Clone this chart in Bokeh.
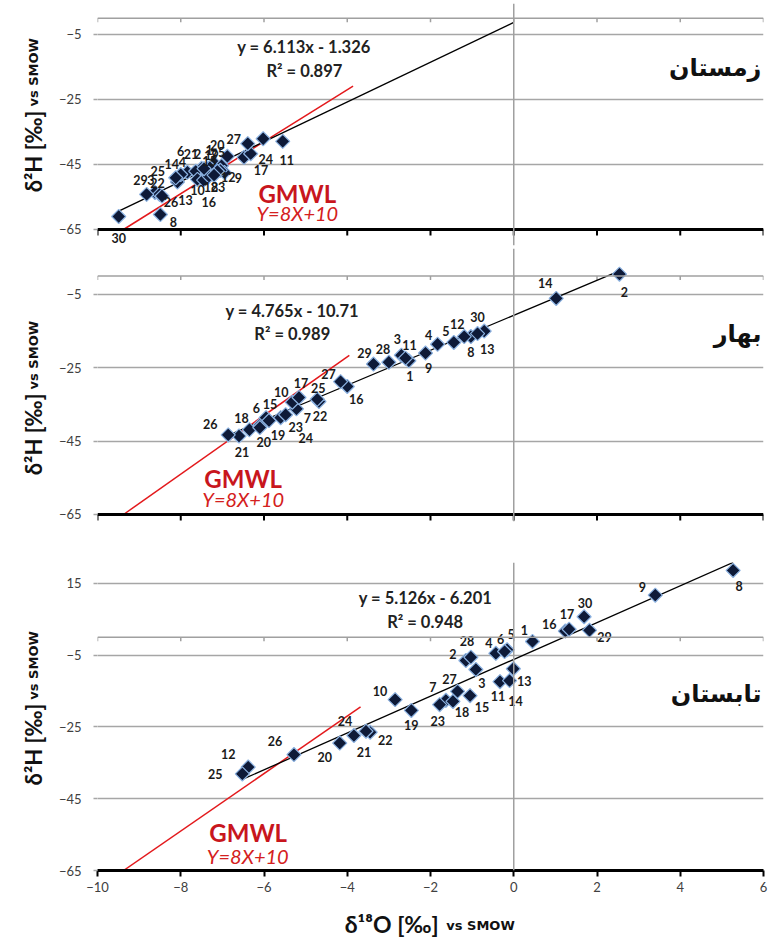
import math
from bokeh.plotting import figure
from bokeh.layouts import column, row
from bokeh.models import ColumnDataSource, Span, Label, FixedTicker, Range1d
from bokeh.core.properties import value
from bokeh.embed import file_html
from bokeh.resources import INLINE

# ---------------- data ----------------
stations = [str(i) for i in range(1, 31)]

winter_o18 = [-7.20, -7.50, -8.62, -7.84, -7.02, -7.64, -7.30, -8.49, -6.95, -7.60,
              -5.55, -7.05, -8.08, -8.00, -7.36, -7.45, -6.48, -7.32, -7.12, -6.88,
              -7.44, -8.51, -7.20, -6.32, -8.12, -8.45, -6.39, -6.02, -8.82, -9.49]
winter_h2 = [-44.6, -46.2, -53.6, -47.4, -45.4, -47.1, -46.0, -60.4, -47.5, -49.6,
             -37.9, -46.8, -50.4, -48.1, -47.6, -49.8, -42.8, -48.6, -47.1, -42.5,
             -46.3, -54.2, -48.3, -41.7, -49.1, -54.7, -38.6, -37.1, -54.2, -61.0]
winter_labels = stations[:27] + [""] + stations[28:]   # label of station 28 hidden in the source

spring_o18 = [-2.52, 2.54, -2.70, -1.83, -1.44, -6.09, -5.22, -1.03, -2.12, -5.32,
              -2.60, -1.19, -0.71, 1.02, -5.95, -4.00, -5.16, -6.35, -5.88, -6.10,
              -6.60, -4.68, -5.60, -5.48, -4.72, -6.86, -4.16, -3.00, -3.37, -0.87]
spring_h2 = [-23.1, 0.5, -21.6, -18.6, -18.1, -40.6, -36.2, -16.5, -21.0, -34.4,
             -22.4, -16.5, -15.0, -6.1, -38.6, -30.1, -33.1, -41.9, -39.4, -41.3,
             -43.6, -34.2, -38.6, -37.8, -33.6, -43.3, -28.8, -23.5, -24.0, -15.7]
spring_labels = stations

summer_o18 = [0.45, -1.15, -0.91, -0.43, -0.16, -0.22, -1.63, 5.27, 3.40, -2.85,
              -0.33, -6.38, -0.01, -0.10, -1.05, 1.24, 1.33, -1.46, -2.46, -4.18,
              -3.84, -3.45, -1.78, -3.55, -6.52, -5.28, -1.35, -1.03, 1.82, 1.69]
summer_h2 = [-1.2, -6.5, -9.0, -4.5, -3.5, -4.0, -17.6, 18.6, 11.7, -17.4,
             -12.4, -36.2, -8.8, -12.1, -16.3, 1.7, 2.2, -17.9, -20.4, -29.5,
             -27.4, -26.5, -18.8, -26.2, -38.1, -32.7, -15.1, -5.6, 1.9, 5.7]
summer_labels = stations

# regression fits (slope, intercept, R2)
winter_fit = [6.113, -1.326, 0.897]
spring_fit = [4.765, -10.71, 0.989]
summer_fit = [5.126, -6.201, 0.948]

# global meteoric water line Y = 8X + 10
gmwl = [8, 10]
gmwl_top_o18 = [-3.86, -3.95, -3.68]

season_names = ["زمستان", "بهار", "تابستان"]

x_ticks = [-10, -8, -6, -4, -2, 0, 2, 4, 6]
y_ticks_ws = [-65, -45, -25, -5]
y_ticks_su = [-65, -45, -25, -5, 15]
y_axis_base = -65

# ---------------- label placement (screen px, +dy = up) ----------------
winter_lab_off = [(-5, 13), (-4, 14), (-4, 12), (-5, 10), (0, 14), (-15, 20), (4, 13), (13, -7),
                  (14, -5), (0, -11), (4, -19), (8, -7), (8, -18), (-9, 11), (2, 12), (5, -22),
                  (17, -13), (2, -11), (-6, 16), (-10, 11), (-13, 15), (-2, 11), (4, -12),
                  (15, -5), (-18, 7), (9, -6), (-14, 5), (0, 0), (-6, 14), (0, -22)]
spring_lab_off = [(1, -15), (5, -18), (-4, 16), (-9, 9), (-8, 11), (-4, 17), (11, -9), (0, -15),
                  (3, -15), (-11, 10), (4, 13), (-7, 13), (3, -18), (-11, 15), (4, 14), (9, -13),
                  (2, 14), (-8, 12), (9, -14), (4, -14), (3, -16), (1, -15), (15, -9), (20, -23),
                  (1, 11), (-18, 11), (-12, 8), (-6, 13), (-9, 11), (0, 17)]
summer_lab_off = [(-8, 11), (-13, 7), (6, -14), (-7, 10), (4, 16), (-4, 13), (-13, 13), (6, -16),
                  (-13, 8), (-15, 9), (-2, -14), (-20, 13), (11, -12), (6, -20), (12, -11), (-16, 7),
                  (-2, 15), (9, -11), (0, -15), (-15, -14), (10, -16), (15, -8), (-2, -16),
                  (-21, 10), (-27, 0), (-19, 14), (-8, 12), (-4, 16), (15, -7), (1, 14)]

FONT = "Lato"
LEFT_W = 48          # width of the strip holding the y title
W_MAIN = 721
ML, MR = 49, 6
FRAME_W = W_MAIN - ML - MR
PPX = FRAME_W / 16.0  # px per o18 unit

panels = [
    dict(o18=winter_o18, h2=winter_h2, labels=winter_labels, off=winter_lab_off, fit=winter_fit,
         fit_x=[min(winter_o18), 0.0], gm_top=gmwl_top_o18[0], yt=y_ticks_ws,
         ppu=3.25, ext=16, yhi=4.5, mt=3, mb=1, season=season_names[0],
         eq=(-5.04, -8.9), r2=(-5.03, -16.3), gm=(-5.2, -53.8), gme=(-5.2, -59.9),
         sea=(5.95, -15.4), ylab=(-28.4, -27.2), real_axis=False),
    dict(o18=spring_o18, h2=spring_h2, labels=spring_labels, off=spring_lab_off, fit=spring_fit,
         fit_x=[min(spring_o18), max(spring_o18)], gm_top=gmwl_top_o18[1], yt=y_ticks_ws,
         ppu=3.667, ext=7, yhi=7.5, mt=2, mb=39, season=season_names[1],
         eq=(-5.32, -9.6), r2=(-5.32, -15.9), gm=(-6.5, -55.2), gme=(-6.5, -60.8),
         sea=(5.95, -15.7), ylab=(-32.0, -30.9), real_axis=False),
    dict(o18=summer_o18, h2=summer_h2, labels=summer_labels, off=summer_lab_off, fit=summer_fit,
         fit_x=[min(summer_o18), max(summer_o18)], gm_top=gmwl_top_o18[2], yt=y_ticks_su,
         ppu=3.59, ext=0, yhi=20.8, mt=2, mb=30, season=season_names[2],
         eq=(-2.12, 10.8), r2=(-2.13, 4.3), gm=(-6.38, -54.3), gme=(-6.39, -60.9),
         sea=(5.95, -15.9), ylab=(-18.5, -17.4), real_axis=True),
]

rows = []
for cfg in panels:
    ppu = cfg["ppu"]
    ylo = y_axis_base - cfg["ext"] / ppu
    frame_h = int(round((cfg["yhi"] - ylo) * ppu))
    H = cfg["mt"] + frame_h + cfg["mb"]
    p = figure(width=W_MAIN, height=H, output_backend="svg", toolbar_location=None,
               x_range=Range1d(-10, 6), y_range=Range1d(ylo, cfg["yhi"]),
               min_border_left=ML, min_border_right=MR, min_border_top=cfg["mt"],
               min_border_bottom=cfg["mb"])
    p.outline_line_color = None
    p.background_fill_color = "white"
    p.border_fill_color = "white"

    # grid
    p.xgrid.visible = False
    p.ygrid.ticker = FixedTicker(ticks=cfg["yt"])
    p.ygrid.grid_line_color = "#a6a6a6"
    p.ygrid.grid_line_width = 1.5

    # x axis
    if cfg["real_axis"]:
        p.xaxis.ticker = FixedTicker(ticks=x_ticks)
        p.xaxis.axis_line_color = "black"
        p.xaxis.axis_line_width = 3
        p.xaxis.major_tick_line_color = "black"
        p.xaxis.major_tick_line_width = 2
        p.xaxis.major_tick_in = 0
        p.xaxis.major_tick_out = 6
        p.xaxis.minor_tick_line_color = None
        p.xaxis.major_label_text_font = FONT
        p.xaxis.major_label_text_font_size = "13px"
        p.xaxis.major_label_text_color = "#404040"
        p.xaxis.major_label_standoff = 5
    else:
        p.xaxis.visible = False
        p.add_layout(Span(location=y_axis_base, dimension="width", line_color="black", line_width=3))
        p.segment(x0=x_ticks, x1=x_ticks, y0=[y_axis_base] * len(x_ticks),
                  y1=[y_axis_base - 6 / ppu] * len(x_ticks), line_color="black", line_width=2)

    # y axis
    p.yaxis.ticker = FixedTicker(ticks=cfg["yt"])
    p.yaxis.axis_line_color = None
    p.yaxis.major_tick_line_color = "#a6a6a6"
    p.yaxis.major_tick_line_width = 1.5
    p.yaxis.major_tick_in = 0
    p.yaxis.major_tick_out = 4
    p.yaxis.minor_tick_line_color = None
    p.yaxis.major_label_text_font = FONT
    p.yaxis.major_label_text_font_size = "13px"
    p.yaxis.major_label_text_color = "#404040"
    p.yaxis.major_label_standoff = 12

    # zero lines
    p.add_layout(Span(location=0, dimension="height", line_color="#a0a0a0", line_width=1.5))
    p.add_layout(Span(location=0, dimension="width", line_color="#a0a0a0", line_width=1.5))
    p.segment(x0=x_ticks, x1=x_ticks, y0=[0] * len(x_ticks), y1=[-4 / ppu] * len(x_ticks),
              line_color="#a0a0a0", line_width=1.5)

    # GMWL
    gx0 = (y_axis_base - gmwl[1]) / gmwl[0]
    gxs = [gx0, cfg["gm_top"]]
    p.line(gxs, [gmwl[0] * x + gmwl[1] for x in gxs], line_color="#e3191c", line_width=1.5)

    # regression
    s, b, r2 = cfg["fit"]
    fxs = cfg["fit_x"]
    p.line(fxs, [s * x + b for x in fxs], line_color="black", line_width=1.3)

    # points
    src = ColumnDataSource(dict(x=cfg["o18"], y=cfg["h2"]))
    p.scatter("x", "y", source=src, marker="square", angle=math.pi / 4, size=10,
              fill_color="#0e1a38", line_color="#8db3e2", line_width=1.2)
    keep = [i for i, tx in enumerate(cfg["labels"]) if tx]
    lsrc = ColumnDataSource(dict(x=[cfg["o18"][i] for i in keep], y=[cfg["h2"][i] for i in keep],
                                 t=[cfg["labels"][i] for i in keep],
                                 dx=[cfg["off"][i][0] for i in keep],
                                 dy=[-cfg["off"][i][1] for i in keep]))
    p.text("x", "y", text="t", source=lsrc, x_offset="dx", y_offset="dy",
           text_font=value(FONT), text_font_style="bold", text_font_size="12.5px",
           text_color="#1a1a1a", text_align="center", text_baseline="middle")

    # equation texts
    sign = "-" if b < 0 else "+"
    p.add_layout(Label(x=cfg["eq"][0], y=cfg["eq"][1], text=f"y = {s}x {sign} {abs(b)}",
                       text_font=FONT, text_font_style="bold", text_font_size="16.5px",
                       text_color="#222222", text_align="center", text_baseline="middle"))
    p.add_layout(Label(x=cfg["r2"][0], y=cfg["r2"][1], text=f"R² = {r2}",
                       text_font=FONT, text_font_style="bold", text_font_size="16.5px",
                       text_color="#222222", text_align="center", text_baseline="middle"))
    p.add_layout(Label(x=cfg["gm"][0], y=cfg["gm"][1], text="GMWL",
                       text_font=FONT, text_font_style="bold", text_font_size="24px",
                       text_color="#c8161d", text_align="center", text_baseline="middle"))
    p.add_layout(Label(x=cfg["gme"][0], y=cfg["gme"][1], text=f"Y={gmwl[0]}X+{gmwl[1]}",
                       text_font=FONT, text_font_style="italic", text_font_size="20px",
                       text_color="#d42020", text_align="center", text_baseline="middle"))
    p.add_layout(Label(x=cfg["sea"][0], y=cfg["sea"][1], text=cfg["season"],
                       text_font="DejaVu Sans", text_font_style="bold", text_font_size="24px",
                       text_color="#111111", text_align="right", text_baseline="middle"))

    # left strip with the y title (same vertical mapping as the panel)
    q = figure(width=LEFT_W, height=H, output_backend="svg", toolbar_location=None,
               x_range=Range1d(0, LEFT_W), y_range=Range1d(ylo, cfg["yhi"]),
               min_border_left=0, min_border_right=0, min_border_top=cfg["mt"],
               min_border_bottom=cfg["mb"])
    q.axis.visible = False
    q.grid.visible = False
    q.outline_line_color = None
    q.text(x=[33], y=[cfg["ylab"][0]], text=["δ²H [‰]"], angle=math.pi / 2,
           text_font=value(FONT), text_font_style="bold", text_font_size="22px",
           text_color="#111111", text_align="right", text_baseline="alphabetic")
    q.text(x=[33], y=[cfg["ylab"][1]], text=["vs SMOW"], angle=math.pi / 2,
           text_font=value("DejaVu Sans"), text_font_style="bold", text_font_size="13px",
           text_color="#111111", text_align="left", text_baseline="alphabetic")
    rows.append(row(q, p, spacing=0))

# bottom strip with the x title (same horizontal mapping as the panels)
TW = LEFT_W + W_MAIN
TH = 40
x_left = -10 - (LEFT_W + ML) / PPX
x_right = 6 + MR / PPX
t = figure(width=TW, height=TH, output_backend="svg", toolbar_location=None,
           x_range=Range1d(x_left, x_right), y_range=Range1d(0, TH),
           min_border_left=0, min_border_right=0, min_border_top=0, min_border_bottom=0)
t.axis.visible = False
t.grid.visible = False
t.outline_line_color = None
t.text(x=[-1.80], y=[17], text=["δ¹⁸O [‰]"], text_font=value(FONT), text_font_style="bold",
       text_font_size="23px", text_color="#111111", text_align="right", text_baseline="middle")
t.text(x=[-1.62], y=[15], text=["vs SMOW"], text_font=value("DejaVu Sans"), text_font_style="bold",
       text_font_size="13px", text_color="#111111", text_align="left", text_baseline="middle")

layout = column(*rows, t, spacing=0)
open("out.html", "w").write(file_html(layout, INLINE))
